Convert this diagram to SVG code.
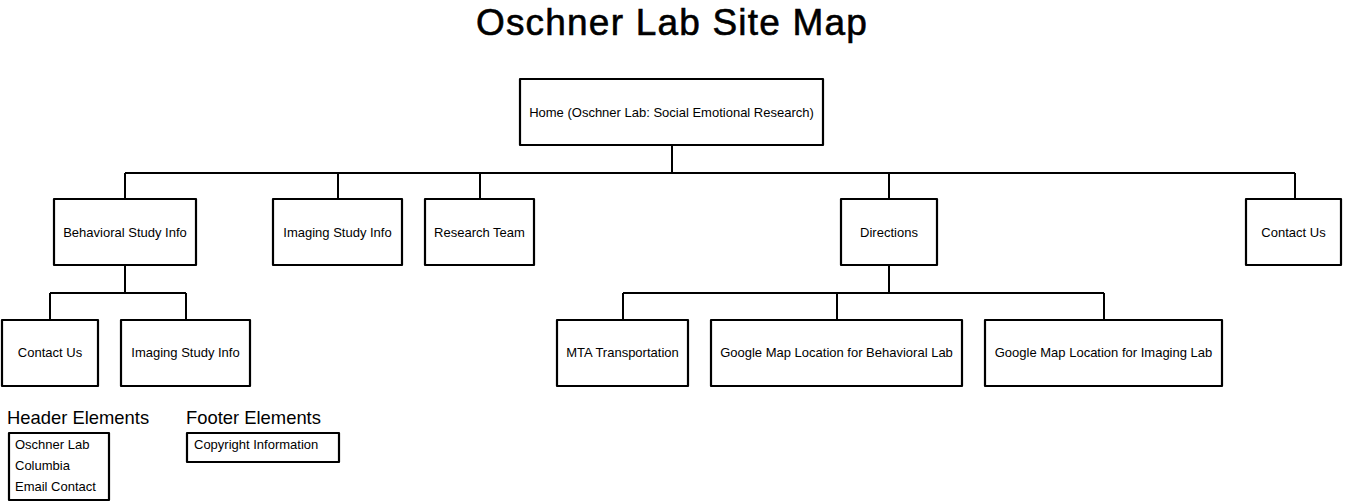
<svg xmlns="http://www.w3.org/2000/svg" width="1345" height="504" viewBox="0 0 1345 504">
<style>
.box{fill:#fff;stroke:#000;stroke-width:2.2;stroke-linejoin:round}
.lbl{font-family:"Liberation Sans",Arial,sans-serif;font-size:13px;fill:#000;text-anchor:middle;dominant-baseline:central}
.item{font-family:"Liberation Sans",Arial,sans-serif;font-size:13px;fill:#000}
.head{font-family:"Liberation Sans",Arial,sans-serif;font-size:18.4px;fill:#000}
.title{font-family:"Liberation Sans",Arial,sans-serif;font-size:37px;letter-spacing:1.2px;fill:#000;stroke:#000;stroke-width:0.6;text-anchor:middle}
.conn{fill:none;stroke:#000;stroke-width:2}
</style>
<rect width="1345" height="504" fill="#fff"/>
<text class="title" x="672" y="35">Oschner Lab Site Map</text>
<g id="connectors">
<path class="conn" d="M672,145 V173 M125,173 H1295 M125,173 V199 M338,173 V199 M480,173 V199 M889,173 V199 M1295,173 V199"/>
<path class="conn" d="M125,266 V293 M50,293 H186 M50,293 V320 M186,293 V320"/>
<path class="conn" d="M889,266 V293 M623,293 H1104 M623,293 V320 M837,293 V320 M1104,293 V320"/>
</g>
<g id="home"><rect class="box" x="520" y="79" width="303" height="66"/><text class="lbl" x="671.5" y="112">Home (Oschner Lab: Social Emotional Research)</text></g>
<g id="behavioral"><rect class="box" x="54" y="199" width="142" height="66"/><text class="lbl" x="125" y="232">Behavioral Study Info</text></g>
<g id="imaging"><rect class="box" x="273" y="199" width="129" height="66"/><text class="lbl" x="337.5" y="232">Imaging Study Info</text></g>
<g id="research"><rect class="box" x="425" y="199" width="109" height="66"/><text class="lbl" x="479.5" y="232">Research Team</text></g>
<g id="directions"><rect class="box" x="841" y="199" width="96" height="66"/><text class="lbl" x="889" y="232">Directions</text></g>
<g id="contact"><rect class="box" x="1246" y="199" width="95" height="66"/><text class="lbl" x="1293.5" y="232">Contact Us</text></g>
<g id="b-contact"><rect class="box" x="2" y="320" width="96" height="66"/><text class="lbl" x="50" y="352">Contact Us</text></g>
<g id="b-imaging"><rect class="box" x="121" y="320" width="129" height="66"/><text class="lbl" x="185.5" y="352">Imaging Study Info</text></g>
<g id="mta"><rect class="box" x="557" y="320" width="131" height="66"/><text class="lbl" x="622.5" y="352">MTA Transportation</text></g>
<g id="gmap-behavioral"><rect class="box" x="711" y="320" width="251" height="66"/><text class="lbl" x="836.5" y="352">Google Map Location for Behavioral Lab</text></g>
<g id="gmap-imaging"><rect class="box" x="985" y="320" width="237" height="66"/><text class="lbl" x="1103.5" y="352">Google Map Location for Imaging Lab</text></g>
<g id="header-elements">
<text class="head" x="7" y="424">Header Elements</text>
<rect class="box" x="9" y="433" width="100" height="67"/>
<text class="item" x="15" y="449">Oschner Lab</text>
<text class="item" x="15" y="470">Columbia</text>
<text class="item" x="15" y="491">Email Contact</text>
</g>
<g id="footer-elements">
<text class="head" x="186" y="424">Footer Elements</text>
<rect class="box" x="187" y="433" width="152" height="29"/>
<text class="item" x="194" y="449">Copyright Information</text>
</g>
</svg>
